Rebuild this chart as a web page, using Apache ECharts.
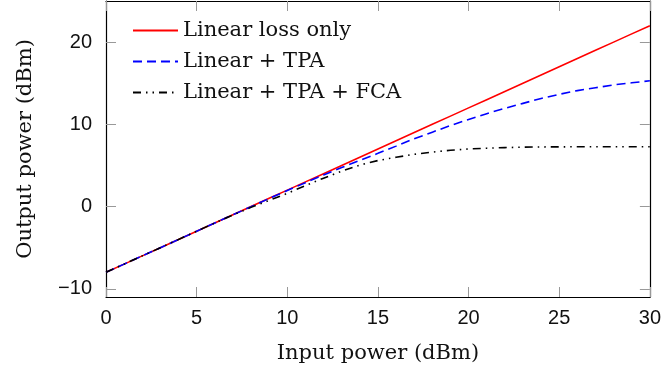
<!DOCTYPE html>
<html>
<head>
<meta charset="utf-8">
<script src="https://cdn.jsdelivr.net/npm/echarts@6/dist/echarts.min.js"></script>
<style>
html,body{margin:0;padding:0;background:#fff;}
#c{width:664px;height:374px;}
</style>
</head>
<body>
<div id="c"></div>
<script>
var inputPower = [0,1,2,3,4,5,6,7,8,9,10,11,12,13,14,15,16,17,18,19,20,21,22,23,24,25,26,27,28,29,30];
var linearOnly = [-8,-7,-6,-5,-4,-3,-2,-1,0,1,2,3,4,5,6,7,8,9,10,11,12,13,14,15,16,17,18,19,20,21,22];
var linearTPA = [-8,-7,-6,-5,-4,-3,-2,-1,-0.02,0.98,1.95,2.9,3.85,4.75,5.62,6.47,7.35,8.25,9.05,9.85,10.6,11.3,11.95,12.55,13.15,13.65,14.1,14.45,14.8,15.05,15.3];
var linearTPAFCA = [-8,-7,-6,-5,-4,-3,-2,-1.02,-0.1,0.75,1.6,2.55,3.45,4.3,5.05,5.6,6.0,6.35,6.62,6.85,7.0,7.1,7.17,7.22,7.25,7.26,7.27,7.27,7.27,7.27,7.27];
var seriesNames = ['Linear loss only','Linear + TPA','Linear + TPA + FCA'];
var xTicks = [0,5,10,15,20,25,30];
var yTicks = [-10,0,10,20];

function pairs(xs, ys){ return xs.map(function(x,i){ return [x, ys[i]]; }); }

var serif = 'DejaVu Serif';
var sans = 'Liberation Sans';

function xAxis(pos, labels){
  return {
    type:'value', position:pos, min:0, max:30,
    axisLine:{show:true, onZero:false, lineStyle:{color:'#000', width:1.2}},
    axisTick:{show:true, inside:true, length:10, lineStyle:{color:'#999', width:1}, customValues:xTicks},
    axisLabel:{show:labels, customValues:xTicks, margin:11, color:'#111', fontFamily:sans, fontSize:20},
    splitLine:{show:false},
    name: labels ? 'Input power (dBm)' : '',
    nameLocation:'middle', nameGap:46,
    nameTextStyle:{fontFamily:serif, fontSize:21, color:'#111'}
  };
}
function yAxis(pos, labels){
  return {
    type:'value', position:pos, min:-11, max:25,
    axisLine:{show:true, onZero:false, lineStyle:{color:'#000', width:1.2}},
    axisTick:{show:true, inside:true, length:10, lineStyle:{color:'#999', width:1}, customValues:yTicks},
    axisLabel:{show:labels, customValues:yTicks, margin:14, color:'#111', fontFamily:sans, fontSize:20,
      formatter:function(v){ return String(v).replace('-', '\u2212'); }},
    splitLine:{show:false},
    name: labels ? 'Output power (dBm)' : '',
    nameLocation:'middle', nameGap:70,
    nameTextStyle:{fontFamily:serif, fontSize:21, color:'#111'}
  };
}

var chart = echarts.init(document.getElementById('c'), null, {renderer:'canvas'});
chart.setOption({
  animation:false,
  backgroundColor:'#fff',
  grid:{left:106, right:13, top:1, bottom:77, containLabel:false},
  legend:{
    orient:'vertical', left:127, top:15, itemWidth:45, itemHeight:14, itemGap:10,
    itemStyle:{opacity:0, borderWidth:0},
    textStyle:{fontFamily:serif, fontSize:21, color:'#111', lineHeight:21},
    data:seriesNames
  },
  xAxis:[xAxis('bottom', true), xAxis('top', false)],
  yAxis:[yAxis('left', true), yAxis('right', false)],
  series:[
    {name:seriesNames[0], type:'line', xAxisIndex:0, yAxisIndex:0, symbol:'circle', showSymbol:false,
     data:pairs(inputPower, linearOnly), lineStyle:{color:'#ff0000', width:1.6}, itemStyle:{color:'#ff0000'}},
    {name:seriesNames[1], type:'line', xAxisIndex:0, yAxisIndex:0, symbol:'circle', showSymbol:false,
     data:pairs(inputPower, linearTPA), lineStyle:{color:'#0000ff', width:1.6, type:[9,5]}, itemStyle:{color:'#0000ff'}},
    {name:seriesNames[2], type:'line', xAxisIndex:0, yAxisIndex:0, symbol:'circle', showSymbol:false,
     data:pairs(inputPower, linearTPAFCA), lineStyle:{color:'#000000', width:1.6, type:[8,5,1.5,5,1.5,5]}, itemStyle:{color:'#000000'}}
  ]
});
</script>
</body>
</html>
